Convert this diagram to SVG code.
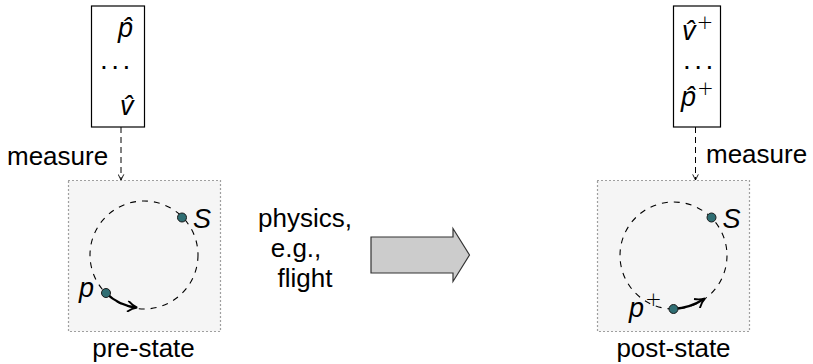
<svg xmlns="http://www.w3.org/2000/svg" width="813" height="364" viewBox="0 0 813 364">
<style>
  .lbl { font-family: "Liberation Sans", Arial, sans-serif; font-size: 26px; fill: #000; }
  .math { font-family: "Liberation Sans", Arial, sans-serif; font-size: 27px; font-style: italic; fill: #000; }
  .sup { font-family: "DejaVu Sans", sans-serif; font-size: 20px; font-style: normal; font-weight: 300; fill: #000; }
  .dots { font-family: "Liberation Sans", Arial, sans-serif; font-size: 28px; letter-spacing: 3.5px; fill: #000; }
  .vec { fill: #fff; stroke: #000; stroke-width: 1.2; }
  .state { fill: #f5f5f5; stroke: #444; stroke-width: 1.2; stroke-dasharray: 1 3; }
  .orbit { fill: none; stroke: #000; stroke-width: 1.1; stroke-dasharray: 6 6; }
  .pt { fill: #2f6e73; stroke: #1a1a1a; stroke-width: 1; }
  .motion { fill: none; stroke: #000; stroke-width: 2.4; marker-end: url(#motionHead); }
  .meas { fill: none; stroke: #000; stroke-width: 1; stroke-dasharray: 6 4; marker-end: url(#measHead); }
</style>
<defs>
  <marker id="measHead" viewBox="0 0 10 10" refX="9" refY="5" markerWidth="7" markerHeight="7" orient="auto" markerUnits="userSpaceOnUse">
    <path d="M1,1 L9,5 L1,9" fill="none" stroke="#000" stroke-width="1.3"/>
  </marker>
  <marker id="motionHead" viewBox="0 0 10 10" refX="8" refY="5" markerWidth="12" markerHeight="12" orient="auto" markerUnits="userSpaceOnUse">
    <path d="M1,0.5 Q5,4 9,5 Q5,6 1,9.5" fill="none" stroke="#000" stroke-width="1.6"/>
  </marker>
</defs>

<g id="pre-measurement">
  <rect class="vec" x="91.5" y="6" width="53" height="121"/>
  <text class="math" x="118" y="37">p̂</text>
  <text class="dots" x="100" y="69">...</text>
  <text class="math" x="120" y="115">v̂</text>
</g>

<g id="post-measurement">
  <rect class="vec" x="673.5" y="6" width="47" height="121"/>
  <text class="math" x="682" y="40">v̂<tspan class="sup" dx="1" dy="-11">+</tspan></text>
  <text class="dots" x="683" y="69">...</text>
  <text class="math" x="681" y="106">p̂<tspan class="sup" dx="1" dy="-11">+</tspan></text>
</g>

<g id="pre-state">
  <rect class="state" x="68.5" y="180.5" width="152" height="151"/>
  <circle class="orbit" cx="144" cy="255" r="54"/>
  <path class="motion" d="M106,293 Q118,305 136,307.5"/>
  <circle class="pt" cx="106" cy="293" r="4.5"/>
  <circle class="pt" cx="182" cy="217.5" r="4.5"/>
  <text class="math" x="193" y="228">S</text>
  <text class="math" x="79" y="297">p</text>
  <text class="lbl" x="143.5" y="357" text-anchor="middle">pre-state</text>
</g>

<g id="post-state">
  <rect class="state" x="597.5" y="180.5" width="152" height="151"/>
  <circle class="orbit" cx="673.5" cy="255.5" r="53.5"/>
  <path class="motion" d="M673.5,309 Q690,308 704,299"/>
  <circle class="pt" cx="673.5" cy="309" r="4.5"/>
  <circle class="pt" cx="711.5" cy="217.5" r="4.5"/>
  <text class="math" x="722.5" y="228">S</text>
  <text class="math" x="629" y="317">p<tspan class="sup" dx="1" dy="-11">+</tspan></text>
  <text class="lbl" x="673.5" y="357" text-anchor="middle">post-state</text>
</g>

<g id="physics">
  <polygon points="371,237 453,237 453,228.5 469.5,255 453,281.5 453,273 371,273" fill="#cccccc" stroke="#333" stroke-width="1.2"/>
  <text class="lbl" x="305" y="227" text-anchor="middle">physics,</text>
  <text class="lbl" x="296" y="257" text-anchor="middle">e.g.,</text>
  <text class="lbl" x="305" y="287" text-anchor="middle">flight</text>
</g>

<g id="connectors">
  <path class="meas" d="M121,127 L121,180"/>
  <path class="meas" d="M695.5,127 L695.5,180"/>
  <text class="lbl" x="7" y="165">measure</text>
  <text class="lbl" x="706" y="163">measure</text>
</g>
</svg>
